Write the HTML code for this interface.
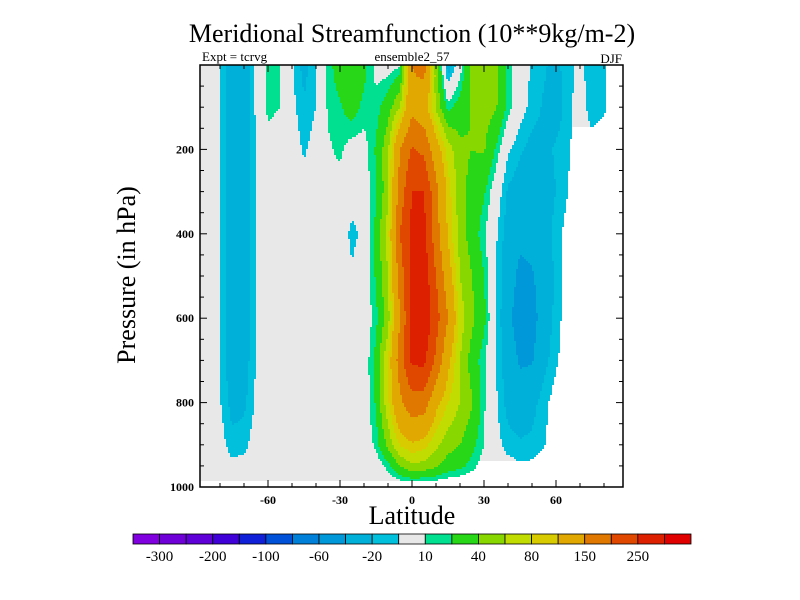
<!DOCTYPE html>
<html><head><meta charset="utf-8"><style>
body{margin:0;background:#fff;width:800px;height:600px;overflow:hidden}
svg{display:block}
text{font-family:"Liberation Serif",serif;fill:#000}
</style></head><body>
<svg id="chart" width="800" height="600" xmlns="http://www.w3.org/2000/svg">
<text x="412" y="42" font-size="26" text-anchor="middle">Meridional Streamfunction (10**9kg/m-2)</text>
<text x="202" y="61" font-size="13">Expt = tcrvg</text>
<text x="412" y="61" font-size="13" text-anchor="middle">ensemble2_57</text>
<text x="622" y="63" font-size="13" text-anchor="end">DJF</text>
<g id="field"></g>
<g id="axes"></g>
<text x="412" y="524" font-size="26" text-anchor="middle">Latitude</text>
<text transform="translate(135,275) rotate(-90)" font-size="26" text-anchor="middle">Pressure (in hPa)</text>
<g id="cbar"></g>
</svg>
<script>
const lats=[-90,-85,-80,-75,-70,-65,-60,-55,-50,-45,-40,-35,-30,-25,-20,-15,-10,-5,0,5,10,15,20,25,30,35,40,45,50,55,60,65,70,75,80,85,90];
const pressures=[0,100,200,300,400,500,600,700,800,900,950,1000];
const values=[
[0,0,-10,-30,-30,-8,13,11,-8,-25,-12,14,30,30,25,5,2,8,150,170,50,-30,2,45,50,45,15,0,-12,-18,-25,-12,-8,-15,-12,0,0],
[0,-2,-10,-30,-30,-8,13,10,-6,-18,-10,12,18,28,16,14,30,60,135,115,55,15,28,42,48,42,16,-4,-14,-22,-28,-14,-4,-15,-12,-2,0],
[0,-3,-10,-30,-30,-9,5,2,-2,-12,-4,8,13,3,4,22,55,150,205,190,120,70,45,40,42,18,-8,-18,-25,-25,-18,-11,-5,-5,-2,0,0],
[0,-3,-10,-32,-30,-10,-2,0,0,-4,0,5,3,-3,2,18,55,170,250,250,165,90,48,32,22,0,-22,-28,-30,-28,-20,-10,-4,-2,0,0,0],
[0,-3,-10,-32,-30,-10,-2,0,0,0,0,0,0,-14,-6,25,70,200,265,265,170,95,50,30,12,-8,-28,-35,-33,-28,-15,-5,-2,0,0,0,0],
[0,-3,-10,-32,-30,-10,-2,0,0,0,0,0,0,-8,0,22,60,170,270,280,200,120,60,40,20,-10,-30,-45,-42,-30,-18,-3,0,0,0,0,0],
[0,-3,-10,-32,-30,-10,-2,0,0,0,0,0,0,0,0,15,50,150,265,290,220,150,70,45,25,-10,-35,-50,-48,-30,-16,-2,0,0,0,0,0],
[0,-3,-10,-30,-28,-9,-1,0,0,0,0,0,0,0,0,25,78,175,260,262,190,110,60,30,12,-10,-30,-42,-42,-25,-12,-2,0,0,0,0,0],
[0,-2,-9,-25,-23,-8,-1,0,0,0,0,0,0,0,0,22,75,140,180,175,110,80,60,42,12,-8,-25,-32,-25,-14,-4,0,0,0,0,0,0],
[0,-1,-4,-16,-14,-3,0,0,0,0,0,0,0,0,0,13,45,82,95,88,65,48,40,25,10,-5,-15,-18,-17,-11,-2,0,0,0,0,0,0],
[0,0,-2,-6,-5,-1,0,0,0,0,0,0,0,0,-2,0,15,40,57,52,43,30,24,15,3,-2,-5,-8,-7,-4,0,0,0,0,0,0,0],
[0,0,0,0,0,0,0,0,0,0,0,0,0,0,-4,-5,-5,-5,-5,-5,-5,-5,-5,-5,-5,-4,0,0,0,0,0,0,0,0,0,0,0]
];
const levels=[-300,-250,-200,-150,-100,-80,-60,-40,-20,-10,10,20,40,60,80,100,150,200,250,300];
const levelLabels=["-300","-200","-100","-60","-20","10","40","80","150","250"];
const colors=["#8000e0","#7000d8","#6000d8","#4000d8","#1020d8","#0050d8","#0080d8","#0098d8","#00b0d8","#00c0dc","#e8e8e8","#00e090","#28d818","#88d800","#c0dc00","#d8cc00","#e0a800","#e07800","#e04800","#dc2000","#e00000"];
const xTicks=[-60,-30,0,30,60];
const yTicks=[200,400,600,800,1000];

const NS="http://www.w3.org/2000/svg";
const PL=200,PR=623,PT=65,PB=487;
const xS=lat=>412+2.4*lat;
const yS=p=>PT+(p-0)*(PB-PT)/1000;
const latOf=x=>(x-412)/2.4;
const pOf=y=>(y-PT)*1000/(PB-PT);
function mk(tag,attrs,parent){const e=document.createElementNS(NS,tag);for(const k in attrs)e.setAttribute(k,attrs[k]);parent.appendChild(e);return e;}
function interp(lat,p){
  let i=0;while(i<lats.length-2&&lats[i+1]<lat)i++;
  let j=0;while(j<pressures.length-2&&pressures[j+1]<p)j++;
  const tx=Math.max(0,Math.min(1,(lat-lats[i])/(lats[i+1]-lats[i])));
  const ty=Math.max(0,Math.min(1,(p-pressures[j])/(pressures[j+1]-pressures[j])));
  const a=values[j][i],b=values[j][i+1],c=values[j+1][i],d=values[j+1][i+1];
  return (a*(1-tx)+b*tx)*(1-ty)+(c*(1-tx)+d*tx)*ty;
}
function cidx(v){let k=0;while(k<levels.length&&v>=levels[k])k++;return k;}
const field=document.getElementById('field');
const step=2;
for(let y=PT;y<PB;y+=step){
  let runStart=PL,runC=-1;
  const h=Math.min(step,PB-y);
  for(let x=PL;x<=PR;x+=step){
    const c=x<PR?cidx(interp(latOf(x+step/2),pOf(y+step/2))):-2;
    if(c!==runC){
      if(runC>=0){
        const r=mk('rect',{x:runStart,y:y,width:Math.min(x,PR)-runStart,height:h,fill:colors[runC]},field);
        
        
      }
      runStart=x;runC=c;
    }
  }
}
const axes=document.getElementById('axes');
mk('rect',{x:PL,y:PT,width:PR-PL,height:PB-PT,fill:'none',stroke:'#000','stroke-width':1.5},axes);
for(let lat=-80;lat<=80;lat+=10){
  const x=xS(lat);const L=(lat%30===0)?7:4;
  mk('line',{x1:x,y1:PB,x2:x,y2:PB-L,stroke:'#000'},axes);
  mk('line',{x1:x,y1:PT,x2:x,y2:PT+L,stroke:'#000'},axes);
}
xTicks.forEach(v=>{const t=mk('text',{x:xS(v),y:PB+17,'font-size':12,'font-weight':'bold','text-anchor':'middle'},axes);t.textContent=v;

});
for(let p=50;p<1000;p+=50){
  const y=yS(p);const L=(p%200===0)?7:4;
  mk('line',{x1:PL,y1:y,x2:PL+L,y2:y,stroke:'#000'},axes);
  mk('line',{x1:PR,y1:y,x2:PR-L,y2:y,stroke:'#000'},axes);
}
yTicks.forEach(v=>{const t=mk('text',{x:PL-6,y:yS(v)+4,'font-size':12,'font-weight':'bold','text-anchor':'end'},axes);t.textContent=v;

});
const cb=document.getElementById('cbar');
const CX0=133,CX1=691,CY=534,CH=10,bw=(CX1-CX0)/colors.length;
colors.forEach((c,i)=>{const r=mk('rect',{x:CX0+i*bw,y:CY,width:bw,height:CH,fill:c,stroke:'#000','stroke-width':0.8},cb);

});
levelLabels.forEach(s=>{const k=levels.indexOf(+s);const t=mk('text',{x:CX0+(k+1)*bw,y:CY+27,'font-size':15,'text-anchor':'middle'},cb);t.textContent=s;

});
</script>
</body></html>
